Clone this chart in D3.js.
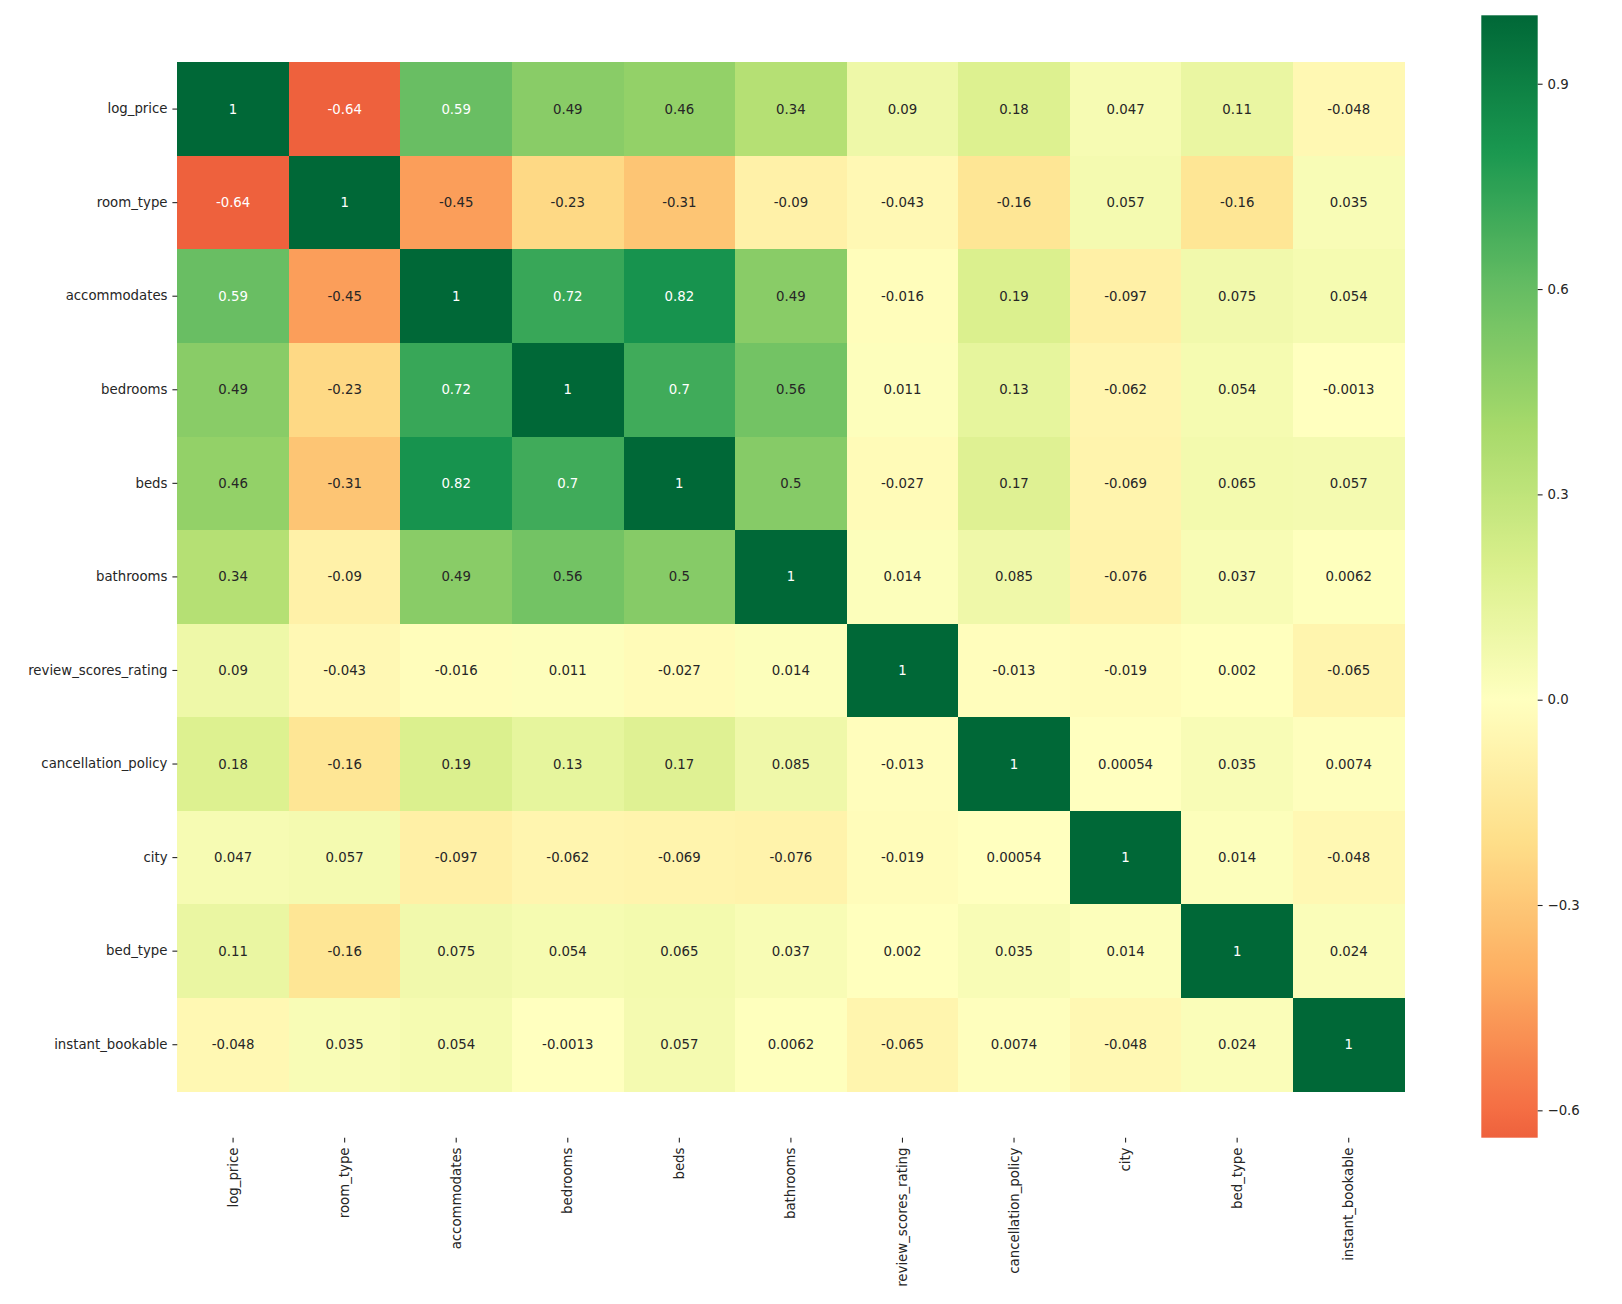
<!DOCTYPE html>
<html>
<head>
<meta charset="utf-8">
<script src="https://cdn.jsdelivr.net/npm/d3@7"></script>
<style>
  html, body { margin: 0; padding: 0; background: #ffffff; }
  svg { display: block; }
  text { font-family: "DejaVu Sans", sans-serif; }
</style>
</head>
<body>
<svg id="chart" width="1622" height="1304"></svg>
<script>
// ---------------- DATA ----------------
const variables = ["log_price", "room_type", "accommodates", "bedrooms", "beds", "bathrooms",
  "review_scores_rating", "cancellation_policy", "city", "bed_type", "instant_bookable"];

const rowLogPrice        = [1, -0.64, 0.59, 0.49, 0.46, 0.34, 0.09, 0.18, 0.047, 0.11, -0.048];
const rowRoomType        = [-0.64, 1, -0.45, -0.23, -0.31, -0.09, -0.043, -0.16, 0.057, -0.16, 0.035];
const rowAccommodates    = [0.59, -0.45, 1, 0.72, 0.82, 0.49, -0.016, 0.19, -0.097, 0.075, 0.054];
const rowBedrooms        = [0.49, -0.23, 0.72, 1, 0.7, 0.56, 0.011, 0.13, -0.062, 0.054, -0.0013];
const rowBeds            = [0.46, -0.31, 0.82, 0.7, 1, 0.5, -0.027, 0.17, -0.069, 0.065, 0.057];
const rowBathrooms       = [0.34, -0.09, 0.49, 0.56, 0.5, 1, 0.014, 0.085, -0.076, 0.037, 0.0062];
const rowReviewScores    = [0.09, -0.043, -0.016, 0.011, -0.027, 0.014, 1, -0.013, -0.019, 0.002, -0.065];
const rowCancellation    = [0.18, -0.16, 0.19, 0.13, 0.17, 0.085, -0.013, 1, 0.00054, 0.035, 0.0074];
const rowCity            = [0.047, 0.057, -0.097, -0.062, -0.069, -0.076, -0.019, 0.00054, 1, 0.014, -0.048];
const rowBedType         = [0.11, -0.16, 0.075, 0.054, 0.065, 0.037, 0.002, 0.035, 0.014, 1, 0.024];
const rowInstantBookable = [-0.048, 0.035, 0.054, -0.0013, 0.057, 0.0062, -0.065, 0.0074, -0.048, 0.024, 1];

const colorbarTicks = [-0.6, -0.3, 0.0, 0.3, 0.6, 0.9];

// ---------------- BUILD TABLE ----------------
const rows = [rowLogPrice, rowRoomType, rowAccommodates, rowBedrooms, rowBeds, rowBathrooms,
  rowReviewScores, rowCancellation, rowCity, rowBedType, rowInstantBookable];
const cells = [];
rows.forEach((r, i) => r.forEach((v, j) => cells.push({ row: variables[i], col: variables[j], value: v })));

const vmin = d3.min(cells, d => d.value);
const vmax = d3.max(cells, d => d.value);
// diverging palette centered at 0, linear interpolation between the 11 RdYlGn anchors
const vrange = Math.max(vmax - 0, 0 - vmin);
const palette = d3.schemeRdYlGn[11];
const paletteScale = d3.scaleLinear()
  .domain(d3.range(palette.length).map(i => -vrange + 2 * vrange * i / (palette.length - 1)))
  .range(palette)
  .interpolate(d3.interpolateRgb)
  .clamp(true);
const color = v => paletteScale(v);

// ---------------- LAYOUT ----------------
const svg = d3.select("#chart");
const plot = { left: 177.3, right: 1404.5, top: 62.3, bottom: 1091.5 };
const axesFrame = { top: 15.3, bottom: 1137.7 };
const fontSize = 13.3;
const tickLen = 4.9, tickPad = 4.9;

const x = d3.scaleBand().domain(variables).range([plot.left, plot.right]).paddingInner(0).paddingOuter(0);
const y = d3.scaleBand().domain(variables).range([plot.top, plot.bottom]).paddingInner(0).paddingOuter(0);

// cells
svg.append("g").selectAll("rect").data(cells).join("rect")
  .attr("x", d => x(d.col))
  .attr("y", d => y(d.row))
  .attr("width", x.bandwidth() + 0.5)
  .attr("height", y.bandwidth() + 0.5)
  .attr("fill", d => color(d.value))
  .attr("shape-rendering", "crispEdges");

// annotations
const loc = d3.formatLocale({ decimal: ".", thousands: ",", grouping: [3], currency: ["", ""], minus: "-" });
const fmt = loc.format(".2~g");
function luminance(c) {
  const rgb = d3.rgb(c);
  const lin = [rgb.r, rgb.g, rgb.b].map(v => {
    v /= 255;
    return v <= 0.03928 ? v / 12.92 : Math.pow((v + 0.055) / 1.055, 2.4);
  });
  return 0.2126 * lin[0] + 0.7152 * lin[1] + 0.0722 * lin[2];
}
svg.append("g").selectAll("text").data(cells).join("text")
  .attr("x", d => x(d.col) + x.bandwidth() / 2)
  .attr("y", d => y(d.row) + y.bandwidth() / 2)
  .attr("text-anchor", "middle")
  .attr("dominant-baseline", "central")
  .attr("font-size", fontSize)
  .attr("fill", d => luminance(color(d.value)) > 0.408 ? "#262626" : "#ffffff")
  .text(d => fmt(d.value));

// Y axis (left)
const yAxis = d3.axisLeft(y).tickSize(tickLen).tickPadding(tickPad);
const gy = svg.append("g").attr("transform", `translate(${plot.left},0)`).call(yAxis);
gy.select(".domain").remove();
gy.selectAll(".tick line").attr("stroke", "#262626").attr("stroke-width", 1.1);
gy.selectAll(".tick text").attr("font-size", fontSize).attr("fill", "#262626")
  .attr("font-family", "DejaVu Sans, sans-serif");

// X axis (bottom of axes frame)
const xAxis = d3.axisBottom(x).tickSize(tickLen).tickPadding(tickPad);
const gx = svg.append("g").attr("transform", `translate(0,${axesFrame.bottom})`).call(xAxis);
gx.select(".domain").remove();
gx.selectAll(".tick line").attr("stroke", "#262626").attr("stroke-width", 1.1);
gx.selectAll(".tick text")
  .attr("font-size", fontSize).attr("fill", "#262626")
  .attr("font-family", "DejaVu Sans, sans-serif")
  .attr("text-anchor", "end")
  .attr("dy", null)
  .attr("dominant-baseline", "central")
  .attr("transform", `translate(0,${tickLen + tickPad}) rotate(-90)`)
  .attr("x", 0).attr("y", 0);

// ---------------- COLORBAR ----------------
const cb = { left: 1481.3, right: 1537.7, top: axesFrame.top, bottom: axesFrame.bottom };
const cbScale = d3.scaleLinear().domain([vmin, vmax]).range([cb.bottom, cb.top]);
const defs = svg.append("defs");
const grad = defs.append("linearGradient").attr("id", "cbgrad")
  .attr("x1", 0).attr("y1", 1).attr("x2", 0).attr("y2", 0);
const nStops = 128;
d3.range(nStops + 1).forEach(k => {
  const t = k / nStops;
  const v = vmin + t * (vmax - vmin);
  grad.append("stop").attr("offset", t).attr("stop-color", color(v));
});
svg.append("rect")
  .attr("x", cb.left).attr("y", cb.top)
  .attr("width", cb.right - cb.left).attr("height", cb.bottom - cb.top)
  .attr("fill", "url(#cbgrad)");

const cbAxis = d3.axisRight(cbScale).tickValues(colorbarTicks).tickSize(tickLen).tickPadding(tickPad)
  .tickFormat(d3.format(".1f"));
const gcb = svg.append("g").attr("transform", `translate(${cb.right},0)`).call(cbAxis);
gcb.select(".domain").remove();
gcb.selectAll(".tick line").attr("stroke", "#262626").attr("stroke-width", 1.1);
gcb.selectAll(".tick text").attr("font-size", fontSize).attr("fill", "#262626")
  .attr("font-family", "DejaVu Sans, sans-serif");
</script>
</body>
</html>
